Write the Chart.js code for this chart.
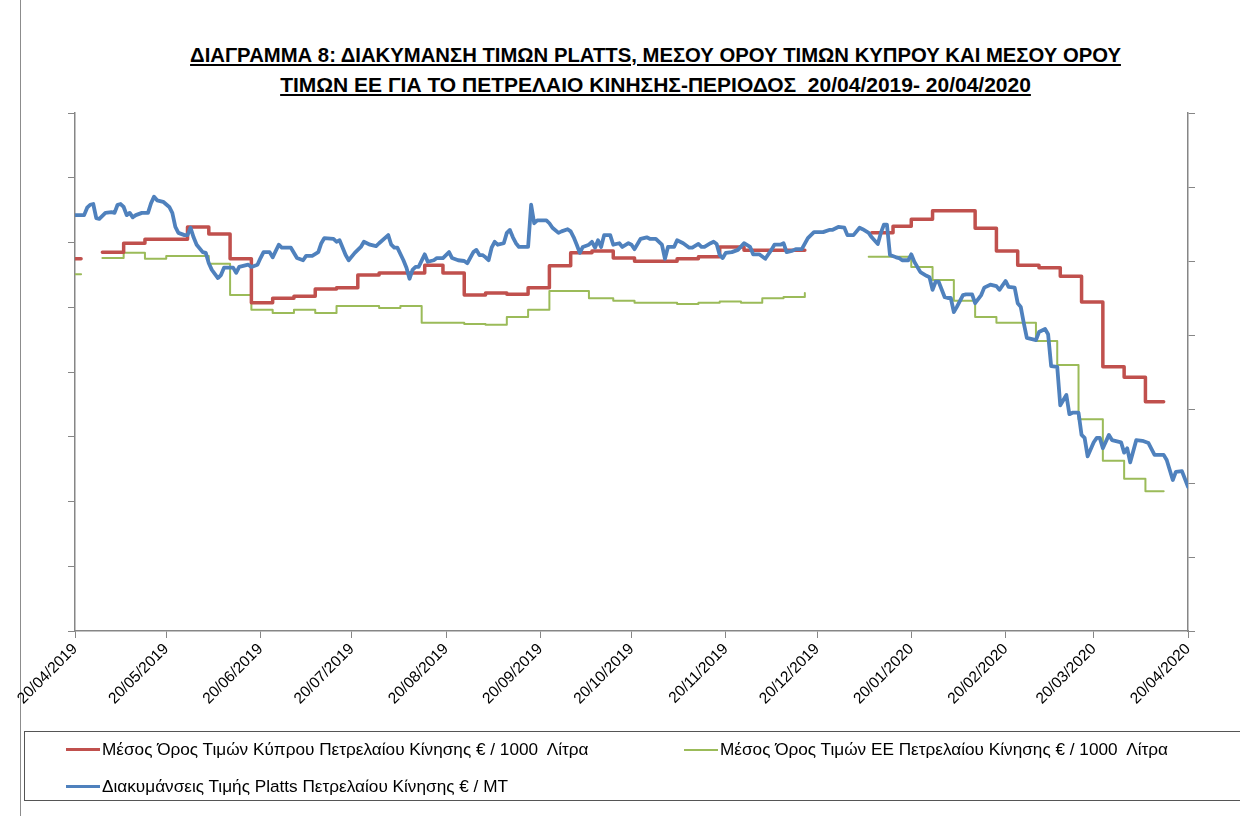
<!DOCTYPE html>
<html>
<head>
<meta charset="utf-8">
<script src="https://cdn.jsdelivr.net/npm/chart.js@4.4.0/dist/chart.umd.min.js"></script>
<style>
  html, body { margin: 0; padding: 0; background: #fff; }
  #wrap { position: relative; width: 1240px; height: 816px; overflow: hidden; font-family: "Liberation Sans", Arial, sans-serif; }
  #frame { position: absolute; left: 20px; top: 0; height: 816px; border-left: 1px solid #8c8c8c; }
  #title { position: absolute; left: 0; width: 1311px; top: 40px; text-align: center; font-weight: bold; font-size: 20.3px; line-height: 30px; text-decoration: underline; white-space: pre; color: #000; }
  #title span { display: inline-block; text-decoration: underline; }
  #chart { position: absolute; left: 0; top: 0; }
  #legend { position: absolute; left: 24px; top: 731px; width: 1230px; height: 68px; border: 1px solid #555; }
  .item { position: absolute; display: flex; align-items: center; font-size: 17.2px; color: #000; white-space: pre; }
  .swatch { display: inline-block; width: 34px; margin-right: 2px; }
</style>
</head>
<body>
<div id="wrap">
  <div id="frame"></div>
  <div id="title">ΔΙΑΓΡΑΜΜΑ 8: ΔΙΑΚΥΜΑΝΣΗ ΤΙΜΩΝ PLATTS, ΜΕΣΟΥ ΟΡΟΥ ΤΙΜΩΝ ΚΥΠΡΟΥ ΚΑΙ ΜΕΣΟΥ ΟΡΟΥ
<span style="font-size:21px">ΤΙΜΩΝ ΕΕ ΓΙΑ ΤΟ ΠΕΤΡΕΛΑΙΟ ΚΙΝΗΣΗΣ-ΠΕΡΙΟΔΟΣ  20/04/2019- 20/04/2020</span></div>
  <canvas id="chart" width="1240" height="816"></canvas>
  <div id="legend"></div>
</div>
<script>
// days counted from 20/04/2019
const xTickDays = [0, 30, 61, 91, 122, 153, 183, 214, 244, 275, 306, 335, 366];
const xTickLabels = ["20/04/2019", "20/05/2019", "20/06/2019", "20/07/2019", "20/08/2019", "20/09/2019",
  "20/10/2019", "20/11/2019", "20/12/2019", "20/01/2020", "20/02/2020", "20/03/2020", "20/04/2020"];

// Cyprus average, € / 1000 litres (weekly steps)
const cyprusDays = [0, 2, 5, 9, 16, 23, 37, 44, 51, 58, 65, 72, 79, 86, 93, 100, 115, 121, 128, 135,
  142, 149, 156, 163, 170, 177, 184, 198, 205, 212, 220, 240, 250, 262, 269, 275, 282, 296, 303, 310,
  317, 324, 331, 338, 345, 352, 358];
const cyprusValues = [575, 575, null, 585, 599, 605, 624, 613, 575, 507, 514, 517, 528, 530, 550, 553, 565, 553, 519, 522,
  520, 530, 564, 584, 587, 576, 571, 575, 578, 593, 588, 588, null, 615, 625, 636, 649, 622, 587, 565,
  561, 548, 508, 408, 392, 354, 354];

// EU average, € / 1000 litres (weekly steps)
const euDays = [0, 2, 5, 9, 16, 23, 30, 44, 51, 58, 65, 72, 79, 86, 100, 107, 114, 128, 135, 142,
  149, 156, 169, 177, 184, 198, 205, 212, 219, 226, 233, 240, 250, 261, 275, 282, 289, 296, 303, 316,
  323, 330, 338, 345, 352, 358];
const euValues = [551, 551, null, 576, 584, 575, 579, 567, 519, 496, 491, 496, 491, 502, 499, 502, 476, 474, 473, 485,
  496, 525, 514, 510, 507, 505, 507, 509, 507, 514, 516, 522, null, 578, 562, 542, 510, 485, 476, 448,
  411, 327, 263, 235, 216, 216];

// Platts, € / MT
const plattsDays = [
  0, 3, 4, 5, 6, 7, 8, 10, 12, 13, 14, 15, 16, 17, 18, 19, 20, 22, 24, 25, 26, 27, 29,
  31, 32, 33, 34, 36, 37, 38, 39, 40, 42, 43, 44, 45, 47, 48, 49, 52, 53, 54, 57, 58, 60,
  61, 62, 64, 65, 67, 68, 71, 73, 75, 76, 78, 80, 81, 82, 85, 86, 87, 89, 90,
  92, 94, 95, 97, 99, 100, 103, 104, 105, 106, 108, 109, 110, 111, 112, 113, 115, 116, 118, 119, 121,
  123, 124, 126, 128, 129, 131, 132, 133, 134, 135, 136, 137, 138, 139, 141, 142, 143, 144, 145, 146, 149, 150, 151, 152,
  155, 156, 157, 159, 160, 162, 163, 164, 165, 166, 167, 169, 170, 171, 172, 173, 174, 176, 177, 179, 180, 182, 183,
  184, 186, 188, 189, 191, 193, 194, 195, 197, 198, 200, 202, 203, 205, 206, 207, 209, 210, 211, 212, 213,
  214, 216, 218, 220, 222, 223, 225, 227, 229, 230, 232, 233, 234, 236, 237, 239, 241, 242, 243,
  246, 248, 249, 251, 253, 254, 256, 258, 259, 261, 262, 264, 265, 266, 267, 268, 270, 271, 272, 274,
  275, 276, 278, 280, 281, 282, 283, 284, 286, 287, 288, 289, 290, 292, 293, 295, 296, 298, 299, 301, 303, 304,
  306, 307, 309, 310, 311, 312, 313, 316, 317, 319, 320, 321, 323, 324, 326, 327, 328, 330, 331, 332, 333, 335,
  336, 337, 338, 340, 341, 344, 345, 346, 347, 349, 351, 353, 355, 358, 359, 361, 362, 364, 366];
const plattsValues = [
  562, 562, 572, 576, 577, 558, 557, 565, 566, 565, 576, 577, 573, 562, 565, 559, 562, 565, 565, 578, 587, 582, 580,
  573, 565, 546, 538, 535, 535, 545, 532, 522, 512, 511, 497, 488, 477, 481, 491, 491, 484, 492, 495, 492, 495,
  504, 512, 512, 505, 522, 518, 518, 504, 501, 507, 507, 512, 524, 531, 530, 526, 528, 508, 501,
  511, 519, 526, 522, 520, 524, 535, 522, 518, 518, 501, 491, 476, 488, 492, 492, 509, 499, 501, 504, 504,
  512, 504, 501, 500, 497, 512, 515, 508, 508, 505, 501, 518, 526, 522, 524, 538, 542, 532, 524, 519, 519, 576, 551, 555,
  555, 551, 545, 538, 540, 543, 540, 532, 522, 511, 519, 522, 526, 518, 528, 519, 535, 535, 522, 524, 519, 524, 522,
  516, 530, 532, 530, 530, 522, 503, 519, 519, 528, 524, 518, 518, 523, 519, 519, 524, 526, 523, 508, 504,
  511, 512, 515, 524, 519, 509, 509, 503, 515, 522, 522, 524, 512, 514, 516, 516, 531, 535, 539,
  539, 542, 542, 546, 545, 535, 535, 545, 543, 538, 532, 523, 538, 549, 549, 508, 505, 504, 501, 501,
  509, 499, 485, 480, 478, 461, 472, 472, 451, 450, 450, 431, 438, 454, 455, 455, 443, 454, 464, 468, 466, 461,
  473, 465, 464, 443, 438, 416, 396, 393, 404, 408, 401, 358, 357, 305, 319, 293, 295, 295, 265, 261, 236, 255,
  261, 261, 247, 265, 258, 255, 241, 247, 228, 258, 257, 254, 238, 238, 231, 204, 215, 216, 195];

const toPoints = (days, vals) => days.map((d, i) => ({ x: d, y: vals[i] }));

const axisGrey = "#868686";

const chart = new Chart(document.getElementById("chart").getContext("2d"), {
  type: "line",
  data: {
    datasets: [
      {
        label: "Μέσος Όρος Τιμών Κύπρου Πετρελαίου Κίνησης € / 1000  Λίτρα",
        data: toPoints(cyprusDays, cyprusValues),
        borderColor: "#C0504D",
        borderWidth: 3.5,
        stepped: true,
        yAxisID: "y",
        order: 1,
      },
      {
        label: "Μέσος Όρος Τιμών ΕΕ Πετρελαίου Κίνησης € / 1000  Λίτρα",
        data: toPoints(euDays, euValues),
        borderColor: "#9BBB59",
        borderWidth: 2,
        stepped: true,
        yAxisID: "y",
        order: 2,
      },
      {
        label: "Διακυμάνσεις Τιμής Platts Πετρελαίου Κίνησης € / MT",
        data: toPoints(plattsDays, plattsValues),
        borderColor: "#4F81BD",
        borderWidth: 3.8,
        yAxisID: "y1",
        order: 0,
      },
    ],
  },
  options: {
    responsive: false,
    animation: false,
    spanGaps: false,
    elements: { point: { radius: 0 }, line: { tension: 0, borderCapStyle: "round", borderJoinStyle: "round" } },
    layout: { padding: { left: 55, right: 32, top: 113, bottom: 100 } },
    plugins: { legend: { display: false }, title: { display: false }, tooltip: { enabled: false } },
    scales: {
      x: {
        type: "linear",
        min: 0,
        max: 366,
        afterBuildTicks: (s) => { s.ticks = xTickDays.map((v) => ({ value: v })); },
        afterFit: (s) => { s.height = 85; },
        ticks: {
          autoSkip: false,
          maxRotation: 45,
          minRotation: 45,
          padding: 2,
          color: "#000",
          font: { family: "Liberation Sans", size: 15.5 },
          callback: (v, i) => xTickLabels[i],
        },
        grid: { drawOnChartArea: false, tickLength: 7, color: axisGrey },
        border: { color: axisGrey, width: 1.5 },
      },
      y: {
        position: "left",
        min: 0,
        max: 800,
        afterFit: (s) => { s.width = 20; },
        ticks: { display: false, stepSize: 100 },
        grid: { drawOnChartArea: false, tickLength: 7, color: axisGrey },
        border: { color: axisGrey, width: 1.5 },
      },
      y1: {
        position: "right",
        min: 0,
        max: 700,
        afterFit: (s) => { s.width = 20; },
        ticks: { display: false, stepSize: 100 },
        grid: { drawOnChartArea: false, tickLength: 7, color: axisGrey },
        border: { color: axisGrey, width: 1.5 },
      },
    },
  },
});

// legend box below the chart, built from the datasets
const legendPos = [[41, 17], [659, 17], [41, 54]];
const legendEl = document.getElementById("legend");
chart.data.datasets.forEach((ds, i) => {
  const item = document.createElement("div");
  item.className = "item";
  item.style.left = legendPos[i][0] + "px";
  item.style.top = (legendPos[i][1] - 10) + "px";
  const sw = document.createElement("span");
  sw.className = "swatch";
  sw.style.height = ds.borderWidth + "px";
  sw.style.background = ds.borderColor;
  item.appendChild(sw);
  item.appendChild(document.createTextNode(ds.label));
  legendEl.appendChild(item);
});
</script>
</body>
</html>
